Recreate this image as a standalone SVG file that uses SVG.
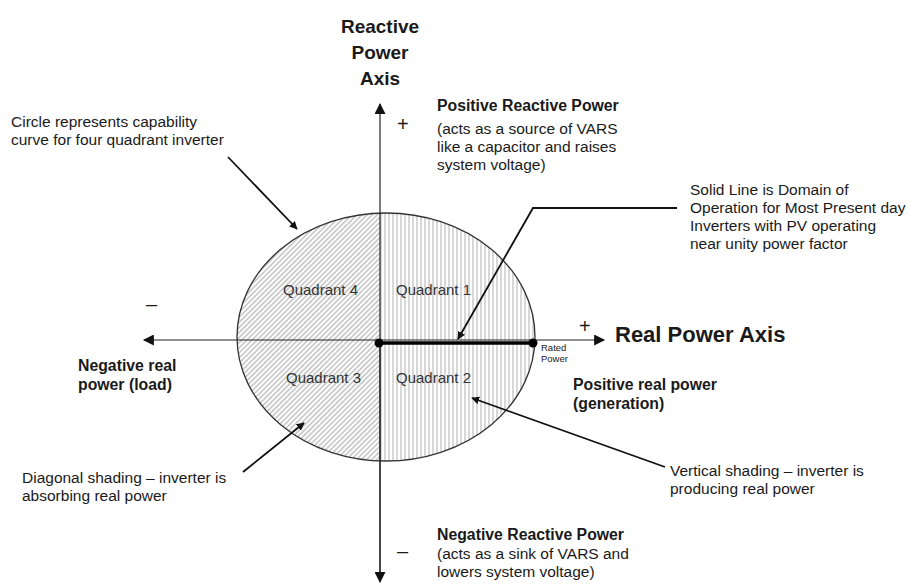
<svg xmlns="http://www.w3.org/2000/svg" width="910" height="585" viewBox="0 0 910 585">
<style>
text{font-family:"Liberation Sans",Arial,sans-serif;fill:#1a1a1a}
.t{font-size:15.5px}
.b{font-size:15.8px;font-weight:bold}
.big{font-size:19px;font-weight:bold}
.q{font-size:15px;fill:#333}
.sign{font-size:20px}
.ax{stroke:#222;stroke-width:1.2;fill:none}
.ld{stroke:#111;stroke-width:1.8;fill:none}
</style>
<defs>
<pattern id="diag" patternUnits="userSpaceOnUse" width="3.6" height="3.6" patternTransform="rotate(45)">
<line x1="1" y1="0" x2="1" y2="3.6" stroke="#8a8a8a" stroke-width="0.8"/>
</pattern>
<pattern id="vert" patternUnits="userSpaceOnUse" width="4" height="4">
<line x1="1" y1="0" x2="1" y2="4" stroke="#9a9a9a" stroke-width="0.8"/>
</pattern>
<clipPath id="leftHalf"><rect x="200" y="200" width="180" height="280"/></clipPath>
<clipPath id="rightHalf"><rect x="380" y="200" width="180" height="280"/></clipPath>
<marker id="ah" viewBox="0 0 10 10" refX="9" refY="5" markerWidth="8" markerHeight="8" markerUnits="userSpaceOnUse" orient="auto">
<path d="M0,0 L10,5 L0,10 z" fill="#111"/>
</marker>
<marker id="axh" viewBox="0 0 10 10" refX="9" refY="5" markerWidth="12" markerHeight="11" markerUnits="userSpaceOnUse" orient="auto">
<path d="M0,0 L10,5 L0,10 z" fill="#111"/>
</marker>
</defs>

<g id="capability-circle">
<ellipse cx="386" cy="337" rx="149" ry="124" fill="#fff"/>
<ellipse cx="386" cy="337" rx="149" ry="124" fill="url(#diag)" clip-path="url(#leftHalf)"/>
<ellipse cx="386" cy="337" rx="149" ry="124" fill="url(#vert)" clip-path="url(#rightHalf)"/>
<ellipse cx="386" cy="337" rx="149" ry="124" fill="none" stroke="#333" stroke-width="1.3"/>
</g>

<g id="axes">
<line class="ax" x1="380" y1="578" x2="380" y2="104" marker-end="url(#axh)"/>
<line class="ax" x1="380" y1="340" x2="380" y2="582" marker-end="url(#axh)"/>
<line class="ax" x1="380" y1="340" x2="604" y2="340" marker-end="url(#axh)"/>
<line class="ax" x1="380" y1="340" x2="144" y2="340" marker-end="url(#axh)"/>
</g>

<g id="solid-line">
<line x1="379" y1="343" x2="533" y2="343" stroke="#000" stroke-width="3.5"/>
<circle cx="379" cy="343" r="4.5" fill="#000"/>
<circle cx="533" cy="343" r="4.5" fill="#000"/>
</g>

<g id="connectors">
<line class="ld" x1="228" y1="157" x2="297" y2="229" marker-end="url(#ah)"/>
<polyline class="ld" points="677,208 533,208 458,339" marker-end="url(#ah)"/>
<line class="ld" x1="243" y1="472" x2="304" y2="423" marker-end="url(#ah)"/>
<line class="ld" x1="665" y1="467" x2="472" y2="398" marker-end="url(#ah)"/>
</g>

<g id="axis-titles">
<text class="big" x="380" y="33" text-anchor="middle">Reactive</text>
<text class="big" x="380" y="59" text-anchor="middle">Power</text>
<text class="big" x="380" y="85" text-anchor="middle">Axis</text>
<text x="615" y="342" style="font-size:22px;font-weight:bold">Real Power Axis</text>
</g>

<g id="signs">
<text class="sign" x="397" y="131">+</text>
<text class="sign" x="579" y="333">+</text>
<text class="sign" x="146" y="311">–</text>
<text class="sign" x="397" y="558">–</text>
</g>

<g id="quadrant-labels">
<text class="q" x="283" y="295">Quadrant 4</text>
<text class="q" x="396" y="295">Quadrant 1</text>
<text class="q" x="286" y="383">Quadrant 3</text>
<text class="q" x="396" y="383">Quadrant 2</text>
</g>

<g id="rated-power">
<text x="541" y="351" style="font-size:9.5px">Rated</text>
<text x="541" y="362" style="font-size:9.5px">Power</text>
</g>

<g id="positive-reactive">
<text class="b" x="437" y="111">Positive Reactive Power</text>
<text class="t" x="437" y="134">(acts as a source of VARS</text>
<text class="t" x="437" y="152">like a capacitor and raises</text>
<text class="t" x="437" y="170">system voltage)</text>
</g>

<g id="negative-reactive">
<text class="b" x="437" y="540">Negative Reactive Power</text>
<text class="t" x="437" y="559">(acts as a sink of VARS and</text>
<text class="t" x="437" y="577">lowers system voltage)</text>
</g>

<g id="circle-note">
<text class="t" x="11" y="127">Circle represents capability</text>
<text class="t" x="11" y="145">curve for four quadrant inverter</text>
</g>

<g id="solid-line-note">
<text class="t" x="690" y="195">Solid Line is Domain of</text>
<text class="t" x="690" y="213">Operation for Most Present day</text>
<text class="t" x="690" y="231">Inverters with PV operating</text>
<text class="t" x="690" y="249">near unity power factor</text>
</g>

<g id="negative-real">
<text class="b" x="78" y="371">Negative real</text>
<text class="b" x="78" y="390">power (load)</text>
</g>

<g id="positive-real">
<text class="b" x="573" y="390">Positive real power</text>
<text class="b" x="573" y="409">(generation)</text>
</g>

<g id="diagonal-note">
<text class="t" x="22" y="483">Diagonal shading – inverter is</text>
<text class="t" x="22" y="501">absorbing real power</text>
</g>

<g id="vertical-note">
<text class="t" x="670" y="476">Vertical shading – inverter is</text>
<text class="t" x="670" y="494">producing real power</text>
</g>
</svg>
